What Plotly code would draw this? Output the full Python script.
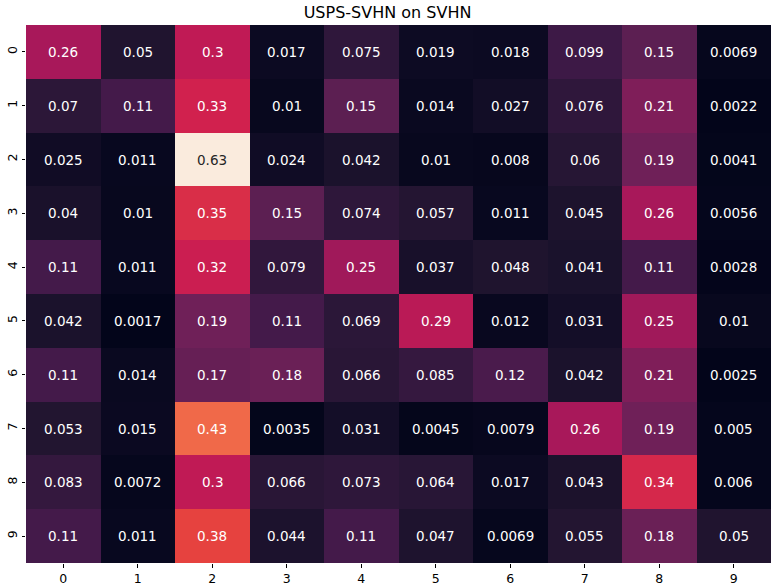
import plotly.graph_objects as go

# etiquetas de clases
labels = [str(i) for i in range(10)]

# matriz de confusion (filas = clase real, columnas = predicha)
row0 = [0.26, 0.05, 0.3, 0.017, 0.075, 0.019, 0.018, 0.099, 0.15, 0.0069]
row1 = [0.07, 0.11, 0.33, 0.01, 0.15, 0.014, 0.027, 0.076, 0.21, 0.0022]
row2 = [0.025, 0.011, 0.63, 0.024, 0.042, 0.01, 0.008, 0.06, 0.19, 0.0041]
row3 = [0.04, 0.01, 0.35, 0.15, 0.074, 0.057, 0.011, 0.045, 0.26, 0.0056]
row4 = [0.11, 0.011, 0.32, 0.079, 0.25, 0.037, 0.048, 0.041, 0.11, 0.0028]
row5 = [0.042, 0.0017, 0.19, 0.11, 0.069, 0.29, 0.012, 0.031, 0.25, 0.01]
row6 = [0.11, 0.014, 0.17, 0.18, 0.066, 0.085, 0.12, 0.042, 0.21, 0.0025]
row7 = [0.053, 0.015, 0.43, 0.0035, 0.031, 0.0045, 0.0079, 0.26, 0.19, 0.005]
row8 = [0.083, 0.0072, 0.3, 0.066, 0.073, 0.064, 0.017, 0.043, 0.34, 0.006]
row9 = [0.11, 0.011, 0.38, 0.044, 0.11, 0.047, 0.0069, 0.055, 0.18, 0.05]
z = [row0, row1, row2, row3, row4, row5, row6, row7, row8, row9]

# aproximacion del mapa "rocket" de seaborn
rocket = [
    [0.0, "#03051A"],
    [0.025, "#0C0A22"],
    [0.08, "#211530"],
    [0.17, "#431A4A"],
    [0.24, "#5E1F52"],
    [0.30, "#6F2058"],
    [0.41, "#A8185A"],
    [0.475, "#C01A55"],
    [0.52, "#D0204F"],
    [0.60, "#E6413F"],
    [0.68, "#F06848"],
    [0.85, "#F5A37E"],
    [1.0, "#FAEBDD"],
]

zmin = min(min(r) for r in z)
zmax = max(max(r) for r in z)

heat = go.Heatmap(z=z, x=labels, y=labels, colorscale=rocket,
                  zmin=zmin, zmax=zmax, showscale=False, xgap=0, ygap=0)

# anotaciones con formato .2g, texto oscuro en celdas claras
annots = []
for i, fila in enumerate(z):
    for j, v in enumerate(fila):
        frac = (v - zmin) / (zmax - zmin)
        annots.append(dict(x=labels[j], y=labels[i], text="{:.2g}".format(v),
                           showarrow=False,
                           font=dict(color="#262626" if frac > 0.85 else "#FFFFFF", size=13.5)))

layout = go.Layout(
    title=dict(text="USPS-SVHN on SVHN", x=0.5, xanchor="center", y=0.979, yanchor="middle",
               font=dict(size=16, color="black")),
    width=775, height=586,
    margin=dict(l=26, r=4, t=25, b=23),
    paper_bgcolor="white", plot_bgcolor="white",
    font=dict(family="DejaVu Sans", color="black", size=12.5),
    xaxis=dict(ticks="outside", ticklen=3.5, tickcolor="black", showgrid=False,
               zeroline=False, showline=False, type="category", automargin=False),
    yaxis=dict(ticks="outside", ticklen=3.5, tickcolor="black", showgrid=False,
               zeroline=False, showline=False, autorange="reversed", tickangle=-90,
               type="category", automargin=False),
    annotations=annots,
)

fig = go.Figure(data=[heat], layout=layout)
# quitar el margen por defecto del body para que la figura empiece en (0,0)
fig.write_html("out.html", config={"displayModeBar": False},
               post_script="document.body.style.margin='0';")
